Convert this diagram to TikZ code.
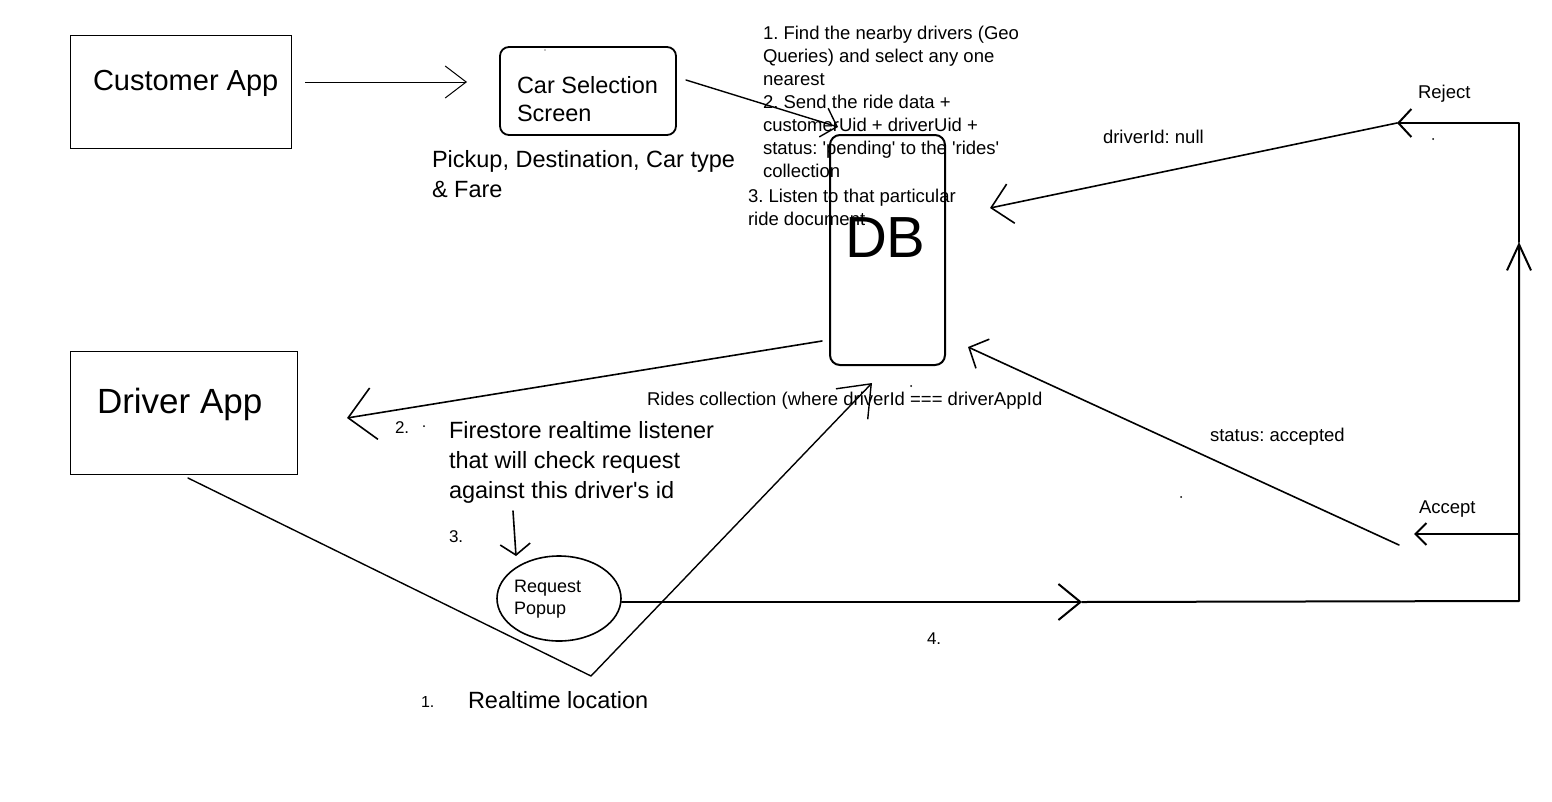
\documentclass[tikz,border=0pt]{standalone}
\usepackage{fontspec}
\setmainfont{Liberation Sans}[Ligatures=TeXOff]
\usetikzlibrary{arrows.meta,shapes.geometric}
\tikzset{
  barb/.style 2 args={-{Straight Barb[length=#1,width=#2]}},
  sqbox/.style={draw, line width=1pt, inner sep=0pt},
  rbox/.style={draw, line width=1.8pt, rounded corners=9pt, inner sep=0pt},
  conn/.style={line width=1.6pt, line cap=round, line join=round},
  thin conn/.style={line width=1pt},
  fbig/.style={font=\fontsize{29}{35}\selectfont},
  fdrv/.style={font=\fontsize{35}{42}\selectfont},
  fdb/.style={font=\fontsize{58}{70}\selectfont},
  fmed/.style={font=\fontsize{23.5}{30}\selectfont},
  fsmall/.style={font=\fontsize{18.5}{23}\selectfont},
  fnum/.style={font=\fontsize{17}{20}\selectfont},
  txt/.style={inner sep=0pt, outer sep=0pt, align=left},
}
\begin{document}
\frenchspacing
\begin{tikzpicture}[x=1pt,y=-1pt]
\useasboundingbox (0,0) rectangle (1552,801);
\fill[white] (0,0) rectangle (1552,801);

% ---- boxes ----
\node[sqbox, minimum width=221pt, minimum height=113pt] (cust) at (180.5,91.5) {};
\node[sqbox, minimum width=227pt, minimum height=123pt] (drv) at (183.5,412.5) {};
\node[rbox, minimum width=176pt, minimum height=88pt] (car) at (588,91) {};
\node[rbox, line width=2pt, rounded corners=10pt, minimum width=115pt, minimum height=230pt] (db) at (887.5,250) {};
\node[draw, ellipse, line width=1.6pt, minimum width=124pt, minimum height=85pt, inner sep=0pt] (popup) at (559,598.5) {};

% ---- texts ----
\node[txt, fbig, anchor=base west] (custlbl) at (93,90) {Customer App};
\node[txt, fdrv, anchor=base west] (drvlbl) at (97,413) {Driver App};
\node[txt, fdb, anchor=base west] (dblbl) at (845,257) {DB};
\node[txt, anchor=north west, font=\fontsize{23.5}{28.4}\selectfont] (carlbl) at (517,76.2) {Car Selection\\Screen};
\node[txt, fmed, anchor=north west] (pickup) at (432,150.3) {Pickup, Destination, Car type\\\& Fare};
\node[txt, fsmall, anchor=north west] (steps) at (763,26.5) {1. Find the nearby drivers (Geo\\Queries) and select any one\\nearest\\2. Send the ride data +\\customerUid + driverUid +\\status: 'pending' to the 'rides'\\collection};
\node[txt, fsmall, anchor=north west] (listen) at (748,189) {3. Listen to that particular\\ride document};
\node[txt, fsmall, anchor=base west] (rides) at (647,405) {Rides collection (where driverId === driverAppId};
\node[txt, fmed, anchor=north west] (fire) at (449,421.3) {Firestore realtime listener\\that will check request\\against this driver's id};
\node[txt, fnum, anchor=base west] (n2) at (395,433) {2.};
\node[txt, fnum, anchor=base west] (n3) at (449,542) {3.};
\node[txt, fnum, anchor=base west] (n4) at (927,644) {4.};
\node[txt, fnum, font=\fontsize{16}{19}\selectfont, anchor=base west] (n1) at (421,707) {1.};
\node[txt, fmed, anchor=base west] (rtloc) at (468,708.5) {Realtime location};
\node[txt, anchor=north west, font=\fontsize{18}{22}\selectfont] (poplbl) at (514,580.5) {Request\\Popup};
\node[txt, fsmall, anchor=base west] (nullx) at (1103,143.5) {driverId: null};
\node[txt, fsmall, anchor=base west] (rej) at (1418,98.5) {Reject};
\node[txt, fsmall, anchor=base west] (stacc) at (1210,441.5) {status: accepted};
\node[txt, fsmall, anchor=base west] (acc) at (1419,513.5) {Accept};

% ---- connector end points ----
\coordinate (custout) at (305,82);
\coordinate (carin) at (467,82);
\coordinate (carout) at (686,80);
\coordinate (dbtop) at (838,127);
\coordinate (dbleft) at (822,341);
\coordinate (drvin) at (347,418);
\coordinate (drvout) at (188,478);
\coordinate (vbot) at (591,676);
\coordinate (dbbot) at (872,383);
\coordinate (fireout) at (513,511);
\coordinate (popin) at (516,556);
\coordinate (m4) at (1082,602);
\coordinate (corner) at (1519,601);
\coordinate (mup) at (1519,242);
\coordinate (rtop) at (1519,123);
\coordinate (rejtip) at (1397,123);
\coordinate (dbright) at (990,208);
\coordinate (accsrc) at (1519,534);
\coordinate (acctip) at (1414,534);
\coordinate (accstart) at (1399,545);
\coordinate (dbbr) at (968,347);

% ---- connectors ----
\draw[thin conn, barb={21pt}{32pt}] (custout) -- (carin);
\draw[conn, line width=1.4pt, barb={14pt}{30pt}] (carout) -- (dbtop);
\draw[conn, barb={26pt}{52pt}] (dbleft) -- (drvin);
\draw[conn, line width=1.4pt, barb={28pt}{44pt}] (drvout) -- (vbot) -- (dbbot);
\draw[conn, barb={11pt}{30pt}] (fireout) -- (popin);
\draw[conn, line width=2pt, barb={22pt}{36pt}] (popup.east |- m4) -- (m4);
\draw[conn, line width=2pt, barb={26pt}{24pt}] (m4) -- (corner) -- (mup);
\draw[conn, line width=2pt, barb={13pt}{28pt}] (mup) -- (rtop) -- (rejtip);
\draw[conn, barb={20pt}{40pt}] (rejtip) -- (dbright);
\draw[conn, line width=2pt, barb={11pt}{22pt}] (accsrc) -- (acctip);
\draw[conn, barb={15pt}{32pt}] (accstart) -- (dbbr);

% ---- stray dots ----
\fill (1433,139) circle (1pt);
\fill (1181,497) circle (1pt);
\fill (911,386) circle (1pt);
\fill (424,426) circle (1pt);
\fill (545,50) circle (0.6pt);
\end{tikzpicture}
\end{document}
